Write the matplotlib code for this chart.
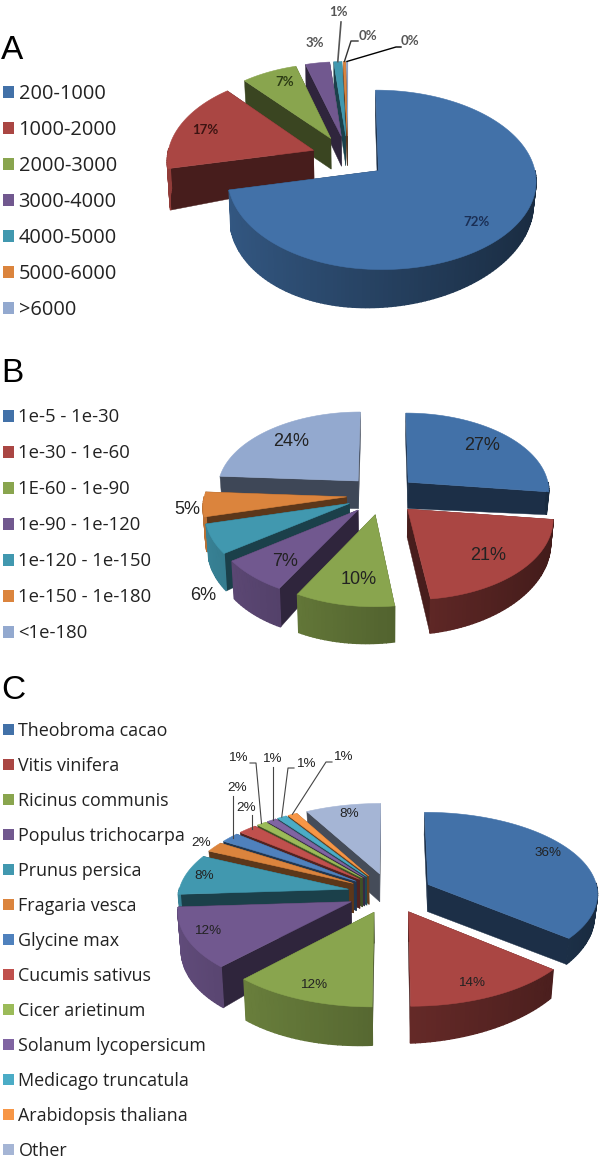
import numpy as np
import matplotlib
matplotlib.use("Agg")
import matplotlib.pyplot as plt
from matplotlib.colors import to_rgb
from matplotlib.patches import Rectangle

# panel A
lengths = ["200-1000", "1000-2000", "2000-3000", "3000-4000", "4000-5000", "5000-6000", ">6000"]
length_pct = [71.6, 17.0, 6.9, 3.0, 1.0, 0.3, 0.2]

# panel B
evalues = ["1e-5 - 1e-30", "1e-30 - 1e-60", "1E-60 - 1e-90", "1e-90 - 1e-120",
           "1e-120 - 1e-150", "1e-150 - 1e-180", "<1e-180"]
evalue_pct = [27, 21, 10, 7, 6, 5, 24]

# panel C
species = ["Theobroma cacao", "Vitis vinifera", "Ricinus communis", "Populus trichocarpa",
           "Prunus persica", "Fragaria vesca", "Glycine max", "Cucumis sativus",
           "Cicer arietinum", "Solanum lycopersicum", "Medicago truncatula",
           "Arabidopsis thaliana", "Other"]
species_pct = [36, 14, 12, 12, 8, 2, 2, 2, 1, 1, 1, 1, 8]

colors7 = ["#4271A8", "#AA4643", "#89A54E", "#71588F", "#4198AF", "#DB843D", "#93A9CF"]
colors13 = colors7[:6] + ["#4F81BD", "#C0504D", "#9BBB59", "#8064A2", "#4BACC6", "#F79646", "#A5B5D5"]


def project(pie, X, Y):
    # flat disc coordinates to pixels, front of the disc comes out bigger
    X = np.asarray(X, dtype=float)
    s = 1.0 / (1.0 - pie["p"] * Y)
    wide = np.where(X < 0, pie["lx"], 1.0)
    return pie["cx"] + pie["rx"] * X * s * wide, pie["cy"] + pie["ry"] * Y * s, s


def depth(pie, X, s):
    return pie["d"] * s ** 2 * (1 - pie["dx"] * X)


def lower(pie, x):
    # bottom edge leans in a little towards the centre
    return pie["cx"] + (x - pie["cx"]) * 0.985


def slice_angles(values):
    edges = np.cumsum([0] + list(values)) / np.sum(values) * 2 * np.pi
    return edges[:-1], edges[1:]


def draw_pie(ax, values, colors, pie):
    starts, ends = slice_angles(values)
    mids = (starts + ends) / 2
    order = np.argsort(-np.cos(mids))
    for i in order:
        base = np.array(to_rgb(colors[i]))
        ox, oy = pie["e"] * np.sin(mids[i]), -pie["e"] * np.cos(mids[i])
        n = max(int((ends[i] - starts[i]) * 40), 2)
        th = np.linspace(starts[i], ends[i], n)
        X = ox + np.sin(th)
        Y = oy - np.cos(th)
        x, y, s = project(pie, X, Y)
        d = depth(pie, X, s)
        x_low = lower(pie, x)
        ax0, ay0, as0 = project(pie, ox, oy)
        ad = depth(pie, ox, as0)
        ax_low = lower(pie, ax0)

        # the two cut faces
        dark = base * 0.42
        for k in (0, -1):
            ax.fill([ax0, x[k], x_low[k], ax_low], [ay0, y[k], y[k] + d[k], ay0 + ad],
                    color=dark, lw=0.3, zorder=1)
        # outer rim, only the part facing us, shaded from left to right
        for k in range(n - 1):
            if np.cos(th[k]) > 0.0 and np.cos(th[k + 1]) > 0.0:
                continue
            t = np.clip((X[k] + 1.2) / 2.4, 0, 1)
            ax.fill([x[k], x[k + 1], x_low[k + 1], x_low[k]],
                    [y[k], y[k + 1], y[k + 1] + d[k + 1], y[k] + d[k]],
                    color=base * (0.85 - 0.47 * t), lw=1.0, zorder=1)
        ax.fill(np.r_[ax0, x], np.r_[ay0, y], color=base, lw=0.4, zorder=1)


def rim_point(values, pie, i):
    # middle of a slice's outer edge, where a leader line ends
    starts, ends = slice_angles(values)
    m = (starts[i] + ends[i]) / 2
    X = (pie["e"] + 1) * np.sin(m)
    Y = -(pie["e"] + 1) * np.cos(m)
    x, y, _ = project(pie, X, Y)
    return float(x), float(y)


def draw_legend(ax, names, colors, y0, step, size):
    for i, name in enumerate(names):
        y = y0 + i * step
        ax.add_patch(Rectangle((3, y - 5.5), 10.5, 11.5, color=colors[i], lw=0))
        ax.text(18.5, y, name, fontsize=size, family="Open Sans", color="#222222",
                va="center_baseline", ha="left")


fig = plt.figure(figsize=(6, 11.58), dpi=100)
ax = fig.add_axes([0, 0, 1, 1])
ax.set_xlim(0, 600)
ax.set_ylim(1158, 0)
ax.axis("off")

for letter, y in zip("ABC", [59, 382, 699]):
    ax.text(1, y, letter, fontsize=24, family="Liberation Sans", color="black", va="baseline")

# ---- A
pie_a = dict(cx=348, cy=157, rx=154, ry=86, p=0.1, e=0.25, d=31, lx=0.95, dx=0.25)
draw_pie(ax, length_pct, colors7, pie_a)
draw_legend(ax, lengths, colors7, 91.5, 36, 14.4)
a_pos = [(476, 222), (205, 130), (285, 82), (315, 43), (338, 12), (368, 36), (410, 41)]
a_txt = ["#1b2f55", "#3c1412", "#2d3c15", "#555555", "#555555", "#555555", "#555555"]
for v, (x, y), c in zip(length_pct, a_pos, a_txt):
    ax.text(x, y, f"{round(v)}%", fontsize=9.5, family="Lato", weight="bold", color=c,
            ha="center", va="center")
tx, ty = rim_point(length_pct, pie_a, 4)
ax.plot([341, tx], [22, ty], color="#555555", lw=1.2, zorder=3)
tx, ty = rim_point(length_pct, pie_a, 5)
ax.plot([358, 351, tx], [41, 41, ty], color="#333333", lw=1.0, zorder=3)
tx, ty = rim_point(length_pct, pie_a, 6)
ax.plot([401, 396, tx], [47, 47, ty], color="black", lw=1.0, zorder=3)

# ---- B
pie_b = dict(cx=382, cy=495, rx=142, ry=78.5, p=0.1, e=0.25, d=28, lx=1.0, dx=0.15)
draw_pie(ax, evalue_pct, colors7, pie_b)
draw_legend(ax, evalues, colors7, 415.5, 36, 13.3)
b_pos = [(482, 445), (488, 556), (359, 580), (285, 562), (203, 595), (187, 509), (291, 442)]
for v, (x, y) in zip(evalue_pct, b_pos):
    ax.text(x, y, f"{v}%", fontsize=13, family="Liberation Sans", color="#222222",
            ha="center", va="center", zorder=3)

# ---- C
pie_c = dict(cx=390, cy=893, rx=170, ry=81, p=0.1, e=0.25, d=29, lx=1.0, dx=0.2)
draw_pie(ax, species_pct, colors13, pie_c)
draw_legend(ax, species, colors13, 729, 35, 12.9)
c_pos = [(548, 853), (472, 983), (314, 985), (208, 931), (204, 876), (201, 843), (237, 788),
         (246, 808), (238, 758), (272, 759), (306, 764), (343, 757), (349, 814)]
for v, (x, y) in zip(species_pct, c_pos):
    ax.text(x, y, f"{v}%", fontsize=9.7, family="Liberation Sans", color="#222222",
            ha="center", va="center", zorder=3)
leaders = {6: [(233, 796)], 7: [(252, 815)], 8: [(250, 763), (256, 763)], 9: [(273, 767)],
           10: [(294, 768), (288, 768)], 11: [(332, 762), (326, 762)]}
for i, elbow in leaders.items():
    tx, ty = rim_point(species_pct, pie_c, i)
    xs = [p[0] for p in elbow] + [tx]
    ys = [p[1] for p in elbow] + [ty]
    if len(elbow) == 1:
        xs = [elbow[0][0], elbow[0][0]]
        ys = [elbow[0][1], ty]
    ax.plot(xs, ys, color="#444444", lw=0.8, zorder=3)

fig.savefig("out.png", dpi=100)
